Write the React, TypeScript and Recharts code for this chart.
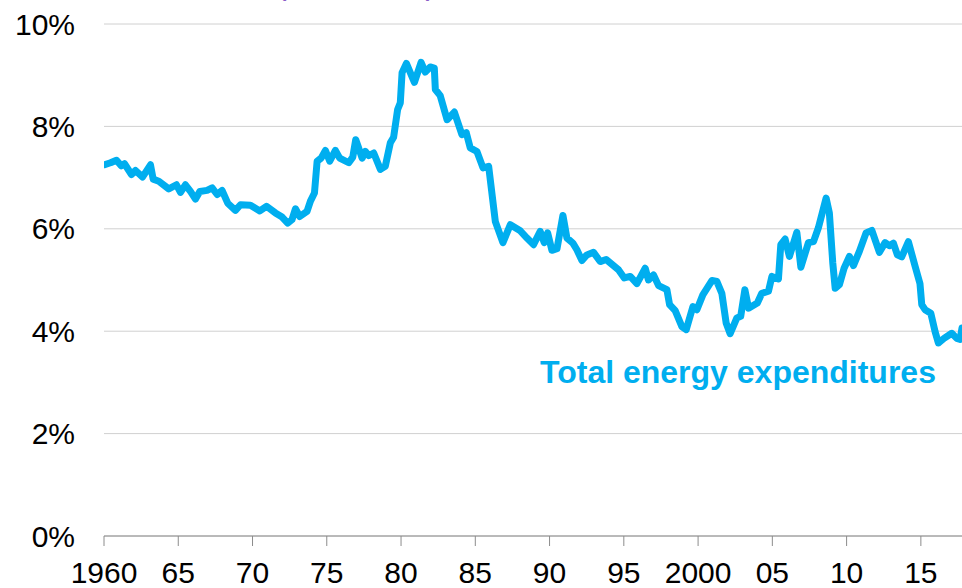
import { CartesianGrid, Line, LineChart, XAxis, YAxis } from 'recharts';

// energy spending share (year, percent)
const years = [
    1960.0, 1960.44, 1960.84, 1961.16, 1961.38, 1961.85, 1962.12, 1962.59, 1963.13, 1963.31,
    1963.69, 1964.36, 1964.88, 1965.15, 1965.48, 1965.82, 1966.16, 1966.45, 1966.94, 1967.28,
    1967.62, 1967.95, 1968.33, 1968.85, 1969.19, 1969.86, 1970.49, 1970.94, 1971.54, 1971.99,
    1972.37, 1972.66, 1972.89, 1973.18, 1973.67, 1973.9, 1974.17, 1974.35, 1974.62, 1974.91,
    1975.2, 1975.58, 1975.87, 1976.48, 1976.75, 1976.95, 1977.1, 1977.38, 1977.6, 1977.82,
    1978.16, 1978.61, 1978.94, 1979.28, 1979.5, 1979.77, 1979.95, 1980.07, 1980.36, 1980.9,
    1981.35, 1981.63, 1981.97, 1982.24, 1982.31, 1982.64, 1983.1, 1983.59, 1984.1, 1984.39,
    1984.66, 1985.11, 1985.52, 1985.9, 1986.35, 1986.86, 1987.36, 1988.03, 1988.48, 1988.92,
    1989.37, 1989.64, 1989.87, 1990.16, 1990.5, 1990.9, 1991.17, 1991.57, 1991.84, 1992.18,
    1992.51, 1992.96, 1993.41, 1993.81, 1994.64, 1995.03, 1995.43, 1995.88, 1996.44, 1996.66,
    1997.0, 1997.34, 1997.9, 1998.08, 1998.46, 1998.91, 1999.2, 1999.65, 1999.92, 2000.32,
    2000.93, 2001.27, 2001.6, 2001.89, 2002.16, 2002.61, 2002.87, 2003.15, 2003.4, 2003.99,
    2004.29, 2004.74, 2004.97, 2005.41, 2005.57, 2005.86, 2006.15, 2006.65, 2006.92, 2007.43,
    2007.77, 2008.1, 2008.62, 2008.84, 2009.07, 2009.23, 2009.52, 2009.83, 2010.19, 2010.46,
    2010.86, 2011.31, 2011.7, 2012.21, 2012.59, 2012.88, 2013.15, 2013.42, 2013.71, 2014.16,
    2014.61, 2014.94, 2015.06, 2015.28, 2015.67, 2015.96, 2016.18, 2016.56, 2017.08, 2017.42,
    2017.64, 2017.77,
];

const shares = [
    7.25, 7.29, 7.34, 7.23, 7.27, 7.06, 7.14, 7.01, 7.25, 6.97,
    6.93, 6.78, 6.86, 6.71, 6.86, 6.73, 6.58, 6.73, 6.75, 6.8,
    6.67, 6.75, 6.5, 6.36, 6.47, 6.46, 6.35, 6.44, 6.31, 6.23,
    6.11, 6.18, 6.39, 6.24, 6.34, 6.54, 6.7, 7.32, 7.38, 7.53,
    7.32, 7.53, 7.38, 7.29, 7.4, 7.74, 7.62, 7.38, 7.51, 7.43,
    7.48, 7.16, 7.22, 7.68, 7.79, 8.33, 8.46, 9.05, 9.23, 8.86,
    9.25, 9.06, 9.16, 9.14, 8.72, 8.6, 8.13, 8.28, 7.84, 7.88,
    7.58, 7.51, 7.19, 7.22, 6.14, 5.73, 6.08, 5.96, 5.82, 5.69,
    5.95, 5.73, 5.92, 5.58, 5.61, 6.26, 5.82, 5.72, 5.59, 5.38,
    5.49, 5.54, 5.36, 5.4, 5.2, 5.04, 5.07, 4.93, 5.23, 5.0,
    5.1, 4.89, 4.81, 4.52, 4.4, 4.09, 4.03, 4.48, 4.42, 4.71,
    4.99, 4.97, 4.74, 4.16, 3.95, 4.26, 4.29, 4.81, 4.45, 4.55,
    4.74, 4.78, 5.07, 5.02, 5.69, 5.8, 5.46, 5.93, 5.25, 5.73,
    5.75, 6.02, 6.6, 6.31, 5.33, 4.84, 4.91, 5.23, 5.46, 5.28,
    5.56, 5.92, 5.97, 5.54, 5.73, 5.67, 5.72, 5.49, 5.45, 5.75,
    5.27, 4.93, 4.52, 4.42, 4.35, 3.99, 3.77, 3.86, 3.96, 3.86,
    3.84, 4.06,
];

const xTicks = [1960, 1965, 1970, 1975, 1980, 1985, 1990, 1995, 2000, 2005, 2010, 2015];
const yTicks = [0, 2, 4, 6, 8, 10];

const data = years.map((year, i) => ({ year, share: shares[i] }));

const LINE_COLOR = '#00AEEF';
const FONT = '"Liberation Sans", Arial, sans-serif';

// 1960 and 2000 in full, the rest as two digits
const yearLabel = (v: number) => (v === 1960 || v === 2000 ? String(v) : String(v).slice(2));

export default function App() {
    return (
        <div style={{ position: 'absolute', left: 0, top: 0, width: 962, height: 588, fontFamily: FONT }}>
            <LineChart width={962} height={588} data={data} margin={{ top: 24, right: 0, left: 0, bottom: 0 }}>
                <CartesianGrid vertical={false} stroke='#D0D0D0' strokeWidth={1} />
                <XAxis
                    dataKey='year'
                    type='number'
                    domain={[1960, 2017.77]}
                    ticks={xTicks}
                    allowDataOverflow
                    tickFormatter={yearLabel}
                    height={52}
                    tickSize={10}
                    tickMargin={16}
                    axisLine={{ stroke: '#8C8C8C' }}
                    tickLine={{ stroke: '#8C8C8C' }}
                    tick={{ fill: '#000', fontSize: 30, fontFamily: FONT }}
                    interval={0}
                />
                <YAxis
                    type='number'
                    domain={[0, 10]}
                    ticks={yTicks}
                    width={104}
                    axisLine={false}
                    tickLine={false}
                    tickSize={0}
                    tickMargin={29}
                    tickFormatter={(v: number) => `${v}%`}
                    tick={{ fill: '#000', fontSize: 30, fontFamily: FONT }}
                />
                <Line
                    dataKey='share'
                    type='linear'
                    stroke={LINE_COLOR}
                    strokeWidth={7}
                    strokeLinejoin='round'
                    strokeLinecap='round'
                    dot={false}
                    isAnimationActive={false}
                />
            </LineChart>
            <svg width={962} height={588} style={{ position: 'absolute', left: 0, top: 0, pointerEvents: 'none' }}>
                <text x={276} y={-6} fill='#8A5CC8' fontSize={32} fontFamily={FONT}>
                    (% of PCE)
                </text>
                <text x={540} y={383} fill={LINE_COLOR} fontSize={32} fontWeight='bold' fontFamily={FONT}>
                    Total energy expenditures
                </text>
            </svg>
        </div>
    );
}
